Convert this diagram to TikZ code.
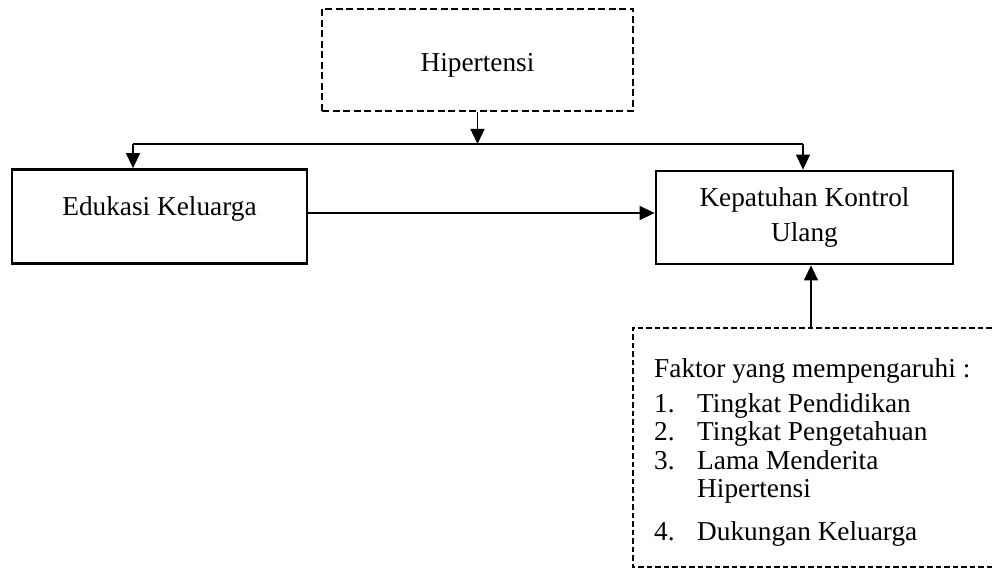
\documentclass[tikz,border=0pt]{standalone}
\usepackage{fontspec}
\setmainfont{Liberation Serif}
\usetikzlibrary{arrows.meta}
\begin{document}
\begin{tikzpicture}[x=1pt,y=-1pt,
  txt/.style={font=\fontsize{27.3pt}{28.5pt}\selectfont},
  solidbox/.style={draw, line width=2.8pt, inner sep=0pt, txt},
  dashbox/.style={draw, line width=2.8pt, dash pattern=on 7pt off 3.5pt, inner sep=0pt, txt},
  openbox/.style={line width=2.2pt, dash pattern=on 5.5pt off 3pt},
  conn/.style={line width=1.4pt},
  arr/.style={conn, -{Triangle[length=15pt,width=14pt]}}]
\useasboundingbox (0,0) rectangle (994,569);
\fill[white] (0,0) rectangle (994,569);

\node[dashbox, minimum width=311pt, minimum height=102pt, text height=24pt, text depth=0pt] (hip) at (477.5,60) {Hipertensi};
\node[solidbox, minimum width=295pt, minimum height=94pt, text height=10pt, text depth=11pt] (edu) at (159.5,216.5) {Edukasi Keluarga};
\node[solidbox, minimum width=297pt, minimum height=93pt, font=\fontsize{27.3pt}{35pt}\selectfont] (kep) at (804.5,217.5) {\begin{tabular}[t]{@{}c@{}}Kepatuhan Kontrol\\Ulang\end{tabular}};
\node[minimum width=367pt, minimum height=239pt, inner sep=0pt] (fak) at (816.5,447.5) {};
\draw[openbox] (fak.north east) -- (fak.north west) -- (fak.south west) -- (fak.south east);
\node[txt, anchor=base west, inner sep=0pt] (faktxt) at (654,378) {\begin{tabular}[t]{@{}p{43pt}@{}l@{}}
\multicolumn{2}{@{}l@{}}{Faktor yang mempengaruhi :}\\[6pt]
1.&Tingkat Pendidikan\\
2.&Tingkat Pengetahuan\\
3.&Lama Menderita\\
&Hipertensi\\[14pt]
4.&Dukungan Keluarga
\end{tabular}};

\coordinate (junc) at (477.5,144);
\coordinate (jl) at (133,144);
\coordinate (jr) at (803,144);

\draw[arr] (hip.south) -- (junc);
\draw[conn] (jl) -- (jr);
\draw[arr] (jl) -- (jl |- edu.north);
\draw[arr] (jr) -- (jr |- kep.north);
\draw[arr] ([yshift=3.5pt]edu.east) -- ([yshift=3.5pt]edu.east -| kep.west);
\draw[arr] ([xshift=6.5pt]kep.south |- fak.north) -- ([xshift=6.5pt]kep.south);
\end{tikzpicture}
\end{document}
